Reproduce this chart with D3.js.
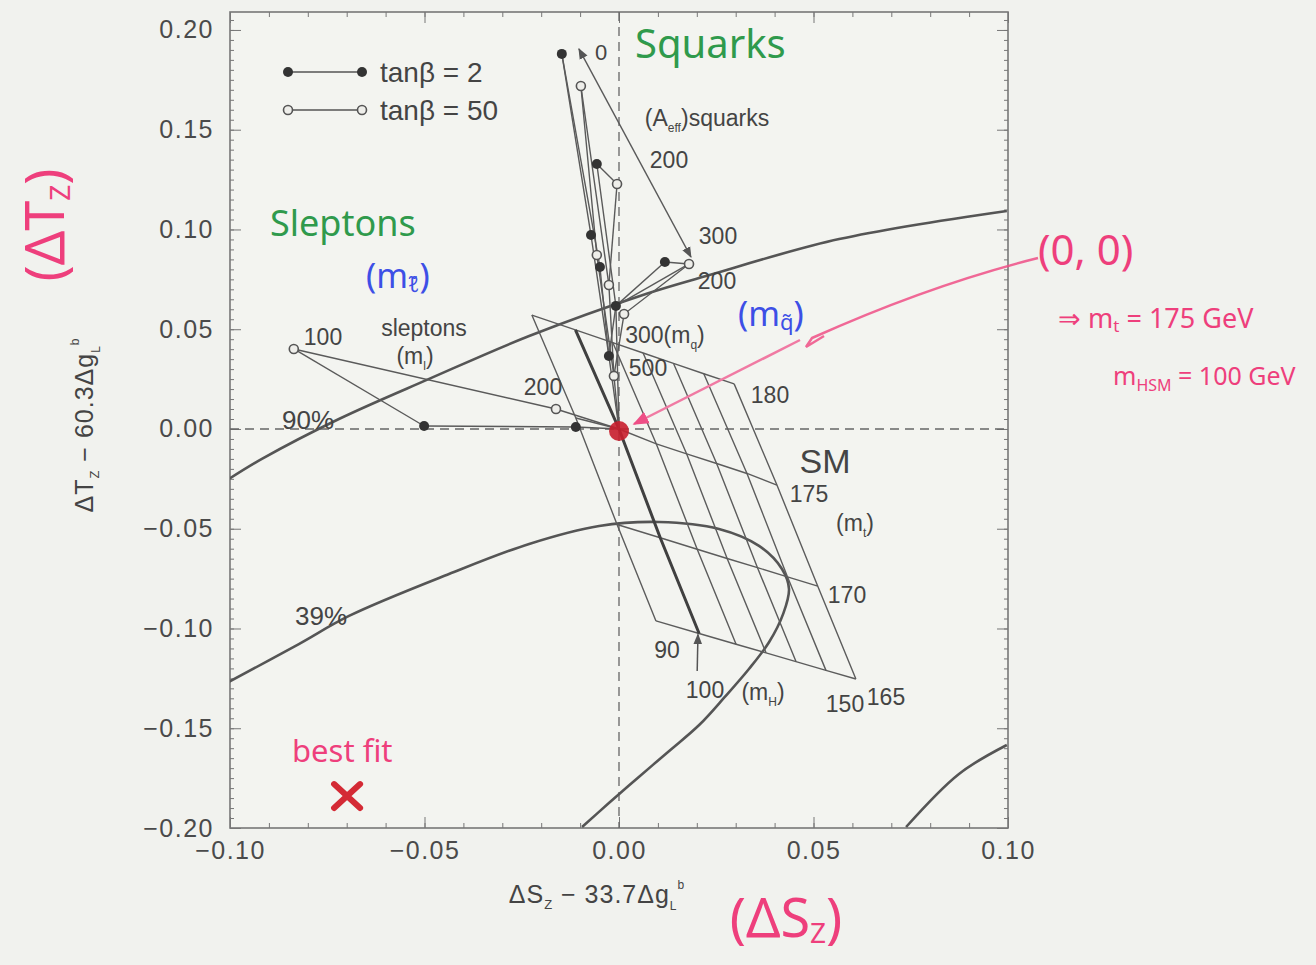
<!DOCTYPE html>
<html>
<head>
<meta charset="utf-8">
<script src="https://cdn.jsdelivr.net/npm/d3@7"></script>
<style>
body { margin: 0; background: #f1f2ee; }
svg { display: block; }
text { font-family: "Liberation Sans", Arial, sans-serif; }
.hand { font-family: "Noto Sans", sans-serif; }
</style>
</head>
<body>
<svg id="chart"></svg>
<script>
// ---- data ----
let xTicks = [-0.10, -0.05, 0.00, 0.05, 0.10]
let yTicks = [-0.20, -0.15, -0.10, -0.05, 0.00, 0.05, 0.10, 0.15, 0.20]

// confidence contours
let contour90 = [[-0.1003,-0.0251],[-0.0918,-0.0150],[-0.0720,0.0050],[-0.0488,0.0251],[-0.0231,0.0466],
  [0.0069,0.0677],[0.0224,0.0767],[0.0566,0.0952],[0.0997,0.1093]]
let contour90low = [[0.0997,-0.1584],[0.0874,-0.1729],[0.0738,-0.1995]]
let contour39 = [[-0.1003,-0.1268],[-0.0823,-0.1078],[-0.0694,-0.0937],[-0.0437,-0.0727],[-0.0231,-0.0576],
  [-0.0051,-0.0486],[0.0103,-0.0466],[0.0257,-0.0501],[0.0360,-0.0586],[0.0419,-0.0702],[0.0437,-0.0802],
  [0.0422,-0.0927],[0.0386,-0.1068],[0.0334,-0.1203],[0.0272,-0.1343],[0.0206,-0.1484],[0.0129,-0.1614],
  [0.0051,-0.1744],[-0.0026,-0.1875],[-0.0095,-0.1995]]

let smOrigin = [0, 0]
let bestFit = [-0.0699, -0.1840]

// squarks
let squarkTan2 = [[-0.0147,0.1880],[-0.0057,0.1328],[-0.0072,0.0972],[-0.0049,0.0812],[0.0118,0.0837],[-0.0008,0.0617],[-0.0026,0.0366]]
let squarkTan50 = [[-0.0098,0.1719],[-0.0005,0.1228],[-0.0057,0.0872],[-0.0026,0.0722],[0.0180,0.0827],[0.0013,0.0576],[-0.0013,0.0266]]
let squarkChains2 = [[0,2,6,-1],[0,3,6],[1,5,-1],[4,5],[5,6]]
let squarkChains50 = [[0,2,6,-1],[0,3,6],[1,3],[4,5,6]]
let squarkLinks = [[1,1],[4,4],[5,4]]
let aEffArrow = [[-0.0103,0.1905],[0.0185,0.0862]]

// sleptons
let sleptonTan2 = [[-0.0501,0.0015],[-0.0111,0.0010]]
let sleptonTan50 = [[-0.0836,0.0401],[-0.0162,0.0100]]

// SM grid: rows = m_t, columns = m_H
let mtValues = [180, 175, 170, 165]
let mHValues = [90, 100, 110, 120, 130, 140, 150]
let smS = [
  [-0.0224,-0.0112,-0.0016,0.0062,0.0140,0.0218,0.0296],
  [-0.0111,0.0000,0.0096,0.0174,0.0251,0.0329,0.0406],
  [-0.0005,0.0106,0.0201,0.0278,0.0356,0.0433,0.0511],
  [0.0095,0.0206,0.0301,0.0378,0.0455,0.0532,0.0609]]
let smT = [
  [0.0571,0.0497,0.0433,0.0381,0.0329,0.0277,0.0226],
  [0.0055,0.0000,-0.0075,-0.0125,-0.0173,-0.0223,-0.0281],
  [-0.0479,-0.0545,-0.0603,-0.0649,-0.0695,-0.0741,-0.0788],
  [-0.0962,-0.1025,-0.1079,-0.1122,-0.1166,-0.1210,-0.1253]]
let mHArrow = [[0.0201,-0.1213],[0.0203,-0.1030]]

// ---- layout ----
let width = 1316
let height = 965
let padL = 230, padR = 1008, padT = 12, padB = 828

let svg = d3.select('#chart').attr('width', width).attr('height', height)

let xScale = d3.scaleLinear().domain([-0.1, 0.1]).range([padL, padR])
let yScale = d3.scaleLinear().domain([-0.2, 0.209]).range([padB, padT])
let px = (p) => [xScale(p[0]), yScale(p[1])]

let defs = svg.append('defs')
defs.append('clipPath').attr('id', 'plotclip')
  .append('rect').attr('x', padL).attr('y', padT).attr('width', padR - padL).attr('height', padB - padT)
let addArrow = (id, color, size) => {
  defs.append('marker').attr('id', id).attr('viewBox', '0 0 10 10').attr('refX', 9).attr('refY', 5)
    .attr('markerWidth', size).attr('markerHeight', size).attr('orient', 'auto-start-reverse')
    .attr('markerUnits', 'userSpaceOnUse')
    .append('path').attr('d', 'M0,1 L10,5 L0,9 Z').attr('fill', color)
}
addArrow('arrowGray', '#555', 11)
addArrow('arrowPink', '#ee4f86', 16)

svg.append('rect').attr('x', padL).attr('y', padT).attr('width', padR - padL).attr('height', padB - padT)
  .attr('fill', '#f3f4f0')

// ---- axes ----
let minorX = d3.range(-10, 11).map(d => d / 100)
let minorY = d3.range(-40, 42).map(d => d / 200)
let noLabel = () => ''
let styleAxis = (g) => {
  g.select('.domain').remove()
  g.selectAll('line').attr('stroke', '#777')
  g.selectAll('text').attr('fill', '#4a4a4a').style('font-size', '25px').style('letter-spacing', '1.5px')
}
svg.append('g').attr('transform', 'translate(0,' + padB + ')')
  .call(d3.axisBottom(xScale).tickValues(minorX).tickSize(-5).tickFormat(noLabel)).call(styleAxis)
svg.append('g').attr('transform', 'translate(0,' + padT + ')')
  .call(d3.axisTop(xScale).tickValues(minorX).tickSize(-5).tickFormat(noLabel)).call(styleAxis)
svg.append('g').attr('transform', 'translate(' + padL + ',0)')
  .call(d3.axisLeft(yScale).tickValues(minorY).tickSize(-4).tickFormat(noLabel)).call(styleAxis)
svg.append('g').attr('transform', 'translate(' + padR + ',0)')
  .call(d3.axisRight(yScale).tickValues(minorY).tickSize(-4).tickFormat(noLabel)).call(styleAxis)

let fmt = (d) => d3.format('.2f')(d).replace('-', '\u2212')
svg.append('g').attr('id', 'x-axis').attr('transform', 'translate(0,' + padB + ')')
  .call(d3.axisBottom(xScale).tickValues(xTicks).tickSize(-11).tickPadding(13).tickFormat(fmt)).call(styleAxis)
svg.append('g').attr('transform', 'translate(0,' + padT + ')')
  .call(d3.axisTop(xScale).tickValues(xTicks).tickSize(-11).tickFormat(noLabel)).call(styleAxis)
svg.append('g').attr('id', 'y-axis').attr('transform', 'translate(' + padL + ',0)')
  .call(d3.axisLeft(yScale).tickValues(yTicks).tickSize(-11).tickPadding(16).tickFormat(fmt)).call(styleAxis)
svg.append('g').attr('transform', 'translate(' + padR + ',0)')
  .call(d3.axisRight(yScale).tickValues(yTicks).tickSize(-11).tickFormat(noLabel)).call(styleAxis)

svg.append('rect').attr('x', padL).attr('y', padT).attr('width', padR - padL).attr('height', padB - padT)
  .attr('fill', 'none').attr('stroke', '#777').attr('stroke-width', 1.6)

// axis titles
let axisTitle = (t) => {
  t.attr('text-anchor', 'middle').attr('fill', '#444').style('font-size', '25px').style('letter-spacing', '1px')
  return t
}
let xt = axisTitle(svg.append('text').attr('x', 597).attr('y', 903))
xt.append('tspan').text('\u0394S')
xt.append('tspan').text('Z').style('font-size', '13px').attr('baseline-shift', '-6')
xt.append('tspan').text(' \u2212 33.7\u0394g')
xt.append('tspan').text('L').style('font-size', '12px').attr('baseline-shift', '-7')
xt.append('tspan').text('b').style('font-size', '12px').attr('baseline-shift', '14')

let yt = axisTitle(svg.append('text').attr('transform', 'translate(93,425) rotate(-90)'))
yt.append('tspan').text('\u0394T')
yt.append('tspan').text('Z').style('font-size', '13px').attr('baseline-shift', '-6')
yt.append('tspan').text(' \u2212 60.3\u0394g')
yt.append('tspan').text('L').style('font-size', '12px').attr('baseline-shift', '-7')
yt.append('tspan').text('b').style('font-size', '12px').attr('baseline-shift', '14')

// ---- plot content ----
let plot = svg.append('g').attr('clip-path', 'url(#plotclip)')

// zero lines
plot.append('line').attr('x1', xScale(0)).attr('x2', xScale(0)).attr('y1', padT).attr('y2', padB)
  .attr('stroke', '#666').attr('stroke-width', 1.3).attr('stroke-dasharray', '9,6')
plot.append('line').attr('x1', padL).attr('x2', padR).attr('y1', yScale(0)).attr('y2', yScale(0))
  .attr('stroke', '#666').attr('stroke-width', 1.3).attr('stroke-dasharray', '9,6')

let curve = d3.line().x(d => xScale(d[0])).y(d => yScale(d[1])).curve(d3.curveCatmullRom)
let straight = d3.line().x(d => xScale(d[0])).y(d => yScale(d[1]))

plot.selectAll('path.contour')
  .data([contour90, contour90low, contour39])
  .enter().append('path').attr('class', 'contour')
  .attr('d', curve).attr('fill', 'none').attr('stroke', '#555').attr('stroke-width', 2.6)

// SM grid
let rows = smS.map((r, i) => r.map((s, j) => [s, smT[i][j]]))
let cols = mHValues.map((m, j) => rows.map(r => r[j]))
plot.selectAll('path.mt').data(rows).enter().append('path').attr('class', 'mt')
  .attr('d', straight).attr('fill', 'none').attr('stroke', '#5c5c5c').attr('stroke-width', 1.4)
plot.selectAll('path.mh').data(cols).enter().append('path').attr('class', 'mh')
  .attr('d', straight).attr('fill', 'none')
  .attr('stroke', (d, j) => mHValues[j] === 100 ? '#404040' : '#5c5c5c')
  .attr('stroke-width', (d, j) => mHValues[j] === 100 ? 3 : 1.4)
plot.append('path').attr('d', straight(mHArrow)).attr('stroke', '#555').attr('stroke-width', 1.5)
  .attr('marker-end', 'url(#arrowGray)')

// squark and slepton lines
let pick = (series, i) => i < 0 ? smOrigin : series[i]
let segs = []
squarkChains2.forEach(c => segs.push(c.map(i => pick(squarkTan2, i))))
squarkChains50.forEach(c => segs.push(c.map(i => pick(squarkTan50, i))))
squarkLinks.forEach(l => segs.push([squarkTan2[l[0]], squarkTan50[l[1]]]))
segs.push([sleptonTan2[0], sleptonTan2[1], smOrigin])
segs.push([sleptonTan50[0], sleptonTan50[1], smOrigin])
segs.push([sleptonTan50[0], sleptonTan2[0]])
plot.selectAll('path.susy').data(segs).enter().append('path').attr('class', 'susy')
  .attr('d', straight).attr('fill', 'none').attr('stroke', '#5a5a5a').attr('stroke-width', 1.4)

plot.append('path').attr('d', straight(aEffArrow)).attr('stroke', '#5a5a5a').attr('stroke-width', 1.4)
  .attr('marker-start', 'url(#arrowGray)').attr('marker-end', 'url(#arrowGray)')

plot.selectAll('circle.tan2').data(squarkTan2.concat(sleptonTan2)).enter().append('circle').attr('class', 'tan2')
  .attr('cx', d => xScale(d[0])).attr('cy', d => yScale(d[1])).attr('r', 5).attr('fill', '#333')
plot.selectAll('circle.tan50').data(squarkTan50.concat(sleptonTan50)).enter().append('circle').attr('class', 'tan50')
  .attr('cx', d => xScale(d[0])).attr('cy', d => yScale(d[1])).attr('r', 4.5)
  .attr('fill', '#eeeeea').attr('stroke', '#555').attr('stroke-width', 1.6)

// SM point (red) and best fit cross
plot.append('circle').attr('cx', xScale(smOrigin[0])).attr('cy', yScale(smOrigin[1]) + 2).attr('r', 10)
  .attr('fill', '#c81e2c').attr('opacity', 0.9)
let bf = px(bestFit)
plot.append('path').attr('d', 'M' + (bf[0] - 13) + ',' + (bf[1] - 12) + 'L' + (bf[0] + 13) + ',' + (bf[1] + 12)
  + 'M' + (bf[0] + 13) + ',' + (bf[1] - 12) + 'L' + (bf[0] - 13) + ',' + (bf[1] + 12))
  .attr('stroke', '#d42a35').attr('stroke-width', 6).attr('stroke-linecap', 'round')

// legend
let legend = svg.append('g')
;[['2', true, 72], ['50', false, 110]].forEach(([v, filled, ly]) => {
  legend.append('line').attr('x1', 288).attr('x2', 362).attr('y1', ly).attr('y2', ly)
    .attr('stroke', '#555').attr('stroke-width', 1.4)
  ;[288, 362].forEach(lx => {
    legend.append('circle').attr('cx', lx).attr('cy', ly).attr('r', filled ? 5 : 4.5)
      .attr('fill', filled ? '#333' : '#eeeeea').attr('stroke', filled ? 'none' : '#555').attr('stroke-width', 1.6)
  })
  legend.append('text').attr('x', 380).attr('y', ly + 10).attr('fill', '#444').style('font-size', '28px')
    .text('tan\u03b2 = ' + v)
})

// chart labels (pixel placement)
let labels = [
  ['0', 601, 52, 22], ['200', 669, 160, 23], ['300', 718, 236, 23], ['200', 717, 281, 23],
  ['500', 648, 368, 23], ['180', 770, 395, 23], ['175', 809, 494, 23], ['170', 847, 595, 23],
  ['90', 667, 650, 23], ['100', 705, 690, 23], ['150', 845, 704, 23], ['165', 886, 697, 23],
  ['100', 323, 337, 23], ['sleptons', 424, 328, 23], ['200', 543, 387, 23],
  ['90%', 308, 420, 26], ['39%', 321, 616, 26], ['SM', 825, 461, 34]
]
svg.selectAll('text.lbl').data(labels).enter().append('text').attr('class', 'lbl')
  .attr('x', d => d[1]).attr('y', d => d[2]).attr('dy', '0.36em').attr('text-anchor', 'middle')
  .attr('fill', '#444').style('font-size', d => d[3] + 'px').text(d => d[0])

let subLabel = (x, y, pre, sub, post, extra) => {
  let t = svg.append('text').attr('x', x).attr('y', y).attr('dy', '0.36em').attr('text-anchor', 'middle')
    .attr('fill', '#444').style('font-size', '23px')
  t.append('tspan').text(pre)
  t.append('tspan').text(sub).style('font-size', '12px').attr('baseline-shift', '-6')
  t.append('tspan').text(post)
  if (extra) t.append('tspan').text(extra)
}
subLabel(707, 118, '(A', 'eff', ')', 'squarks')
subLabel(665, 335, '300(m', 'q', ')')
subLabel(415, 356, '(m', 'l', ')')
subLabel(855, 523, '(m', 't', ')')
subLabel(763, 692, '(m', 'H', ')')

// ---- handwritten annotations ----
let hand = (x, y, txt, color, size, anchor) => svg.append('text').attr('class', 'hand')
  .attr('x', x).attr('y', y).attr('text-anchor', anchor || 'start').attr('fill', color)
  .style('font-size', size + 'px').text(txt)
hand(635, 58, 'Squarks', '#2f9a4c', 40)
hand(270, 236, 'Sleptons', '#2f9a4c', 36)
let bl1 = svg.append('text').attr('class', 'hand').attr('x', 366).attr('y', 288).attr('fill', '#3d4fe6').style('font-size', '34px')
bl1.append('tspan').text('(m')
bl1.append('tspan').text('\u2113\u0303').style('font-size', '22px').attr('baseline-shift', '-4')
bl1.append('tspan').text(')')
let bl2 = svg.append('text').attr('class', 'hand').attr('x', 738).attr('y', 326).attr('fill', '#3d4fe6').style('font-size', '34px')
bl2.append('tspan').text('(m')
bl2.append('tspan').text('q\u0303').style('font-size', '22px').attr('baseline-shift', '-4')
bl2.append('tspan').text(')')

hand(1038, 265, '(0, 0)', '#ee3f7c', 42)
let p1 = svg.append('text').attr('class', 'hand').attr('x', 1058).attr('y', 328).attr('fill', '#ee3f7c').style('font-size', '27px')
p1.append('tspan').text('\u21d2  m')
p1.append('tspan').text('t').style('font-size', '17px').attr('baseline-shift', '-4')
p1.append('tspan').text(' = 175 GeV')
let p2 = svg.append('text').attr('class', 'hand').attr('x', 1113).attr('y', 385).attr('fill', '#ee3f7c').style('font-size', '25px')
p2.append('tspan').text('m')
p2.append('tspan').text('H').style('font-size', '16px').attr('baseline-shift', '-6')
p2.append('tspan').text('SM').style('font-size', '16px').attr('baseline-shift', '-6')
p2.append('tspan').text(' = 100 GeV')
hand(292, 762, 'best fit', '#ee3f7c', 31)

let ptx = svg.append('text').attr('class', 'hand').attr('transform', 'translate(64,225) rotate(-90)')
  .attr('text-anchor', 'middle').attr('fill', '#ee3f7c').style('font-size', '54px')
ptx.append('tspan').text('(\u0394T')
ptx.append('tspan').text('Z').style('font-size', '28px').attr('baseline-shift', '-6')
ptx.append('tspan').text(')')
let psx = svg.append('text').attr('class', 'hand').attr('x', 786).attr('y', 937)
  .attr('text-anchor', 'middle').attr('fill', '#ee3f7c').style('font-size', '54px')
psx.append('tspan').text('(\u0394S')
psx.append('tspan').text('Z').style('font-size', '28px').attr('baseline-shift', '-6')
psx.append('tspan').text(')')

// pink pointer to (0,0)
svg.append('path').attr('d', 'M1038,258 Q930,285 812,338 L806,347 L824,336')
  .attr('fill', 'none').attr('stroke', '#ee4f86').attr('stroke-width', 2.5).attr('opacity', 0.85)
svg.append('path').attr('d', 'M800,340 L634,424')
  .attr('fill', 'none').attr('stroke', '#f07aa3').attr('stroke-width', 2.5)
  .attr('marker-end', 'url(#arrowPink)')
</script>
</body>
</html>
